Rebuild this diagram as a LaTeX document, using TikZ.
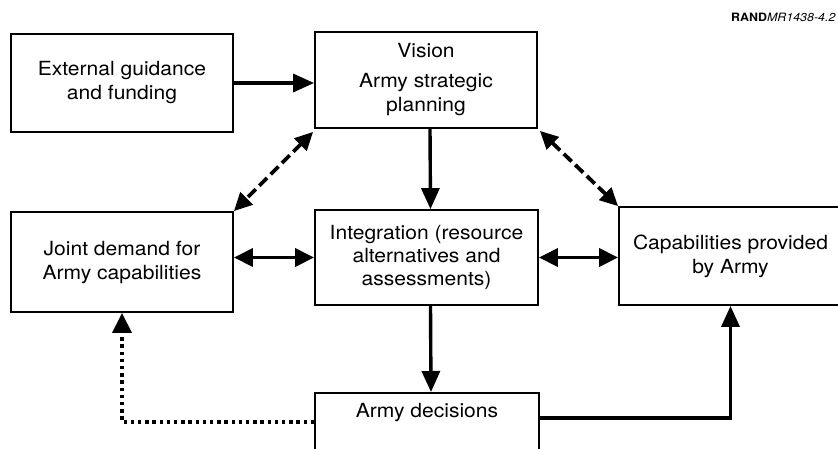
\documentclass[tikz,border=0pt]{standalone}
\usepackage{fontspec}
\setmainfont[FakeStretch=1.08]{TeX Gyre Heros}
\usetikzlibrary{arrows.meta}
\begin{document}
\begin{tikzpicture}[x=1pt,y=-1pt,
  box/.style={draw, line width=1.8pt, rectangle, inner sep=0pt, align=center,
    font=\fontsize{19.5}{24}\selectfont},
  solidarrow/.style={line width=3.4pt, -{Triangle[length=21pt,width=18pt]}},
  twoway/.style={line width=3.4pt, {Triangle[length=19pt,width=18pt]}-{Triangle[length=19pt,width=18pt]}},
  dashtwoway/.style={line width=3.8pt, dash pattern=on 11pt off 5pt,
    {Triangle[length=18pt,width=17pt]}-{Triangle[length=18pt,width=17pt]}},
  dotarrow/.style={line width=3.4pt, dash pattern=on 3.4pt off 3.8pt,
    -{Triangle[length=20pt,width=19pt]}}
]
\useasboundingbox (0,0) rectangle (838,448);
\fill[white] (0,0) rectangle (838,448);
\clip (0,0) rectangle (838,448);

\node[box, minimum width=222pt, minimum height=98pt] (ext) at (122,83)
  {External guidance\\and funding};
\node[box, minimum width=222pt, minimum height=96pt] (vis) at (426,80)
  {Vision\\[6pt]Army strategic\\planning};
\node[box, minimum width=222pt, minimum height=100pt] (joint) at (122,262)
  {Joint demand for\\Army capabilities};
\node[box, minimum width=223pt, minimum height=95pt, font=\fontsize{19.5}{23.4}\selectfont] (int) at (426.5,257.5)
  {Integration (resource\\alternatives and\\assessments)};
\node[box, minimum width=223pt, minimum height=98pt] (cap) at (730.5,256)
  {Capabilities provided\\by Army};
\node[box, minimum width=224pt, text height=25pt, text depth=60pt, anchor=north] (dec) at (427,392)
  {Army decisions};

\node[anchor=base west, inner sep=0pt, font=\fontsize{11.5}{13}\selectfont] (rand) at (731,21.7)
  {\textbf{RAND}\textit{MR1438-4.2}};

\draw[solidarrow] (ext.east) -- (ext.east -| vis.west);
\draw[solidarrow] ([xshift=4pt]vis.south) -- ([xshift=4pt]int.north);
\draw[solidarrow] ([xshift=4pt]int.south) -- ([xshift=4pt]dec.north);
\draw[twoway] (int.west -| joint.east) -- (int.west);
\draw[twoway] (int.east) -- (int.east -| cap.west);
\draw[dashtwoway] ([xshift=-1pt,yshift=-3pt]vis.south west) -- (joint.north east);
\draw[dashtwoway] ([xshift=2pt,yshift=-2pt]vis.south east) -- (cap.north west);
\draw[dotarrow] ([yshift=-30pt]dec.north west) -| (joint.south);
\draw[solidarrow] ([yshift=-26pt]dec.north east) -| (cap.south);
\end{tikzpicture}
\end{document}
